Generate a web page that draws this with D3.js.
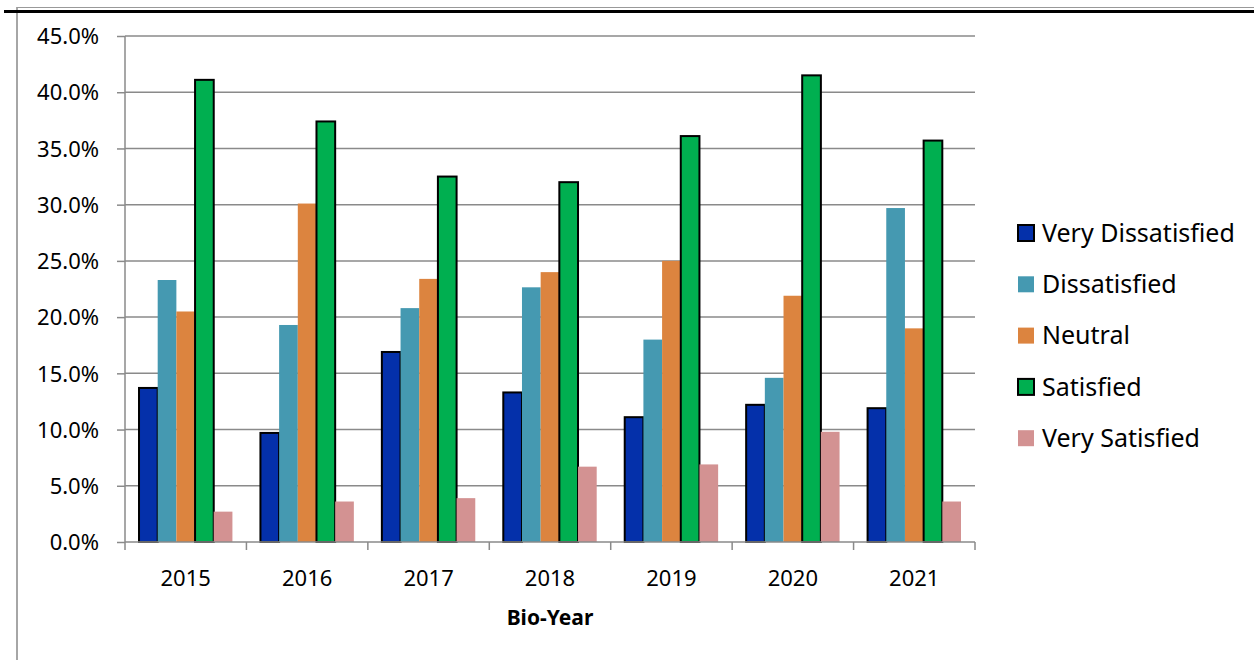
<!DOCTYPE html>
<meta charset="utf-8">
<script src="https://cdn.jsdelivr.net/npm/d3@7"></script>
<style>
  body { margin: 0; background: #fff; }
  text { font-family: "Noto Sans", "Open Sans", sans-serif; fill: #000; }
</style>
<body>
<script>
  // chart data
  var years = ["2015", "2016", "2017", "2018", "2019", "2020", "2021"];
  var series = ["Very Dissatisfied", "Dissatisfied", "Neutral", "Satisfied", "Very Satisfied"];
  var colors = ["#0430aa", "#4599b1", "#dc843f", "#00af50", "#d39292"];
  var outlined = [true, false, false, true, false];
  var veryDissatisfied = [13.7, 9.7, 16.9, 13.3, 11.1, 12.2, 11.9];
  var dissatisfied = [23.3, 19.3, 20.8, 22.65, 18.0, 14.6, 29.7];
  var neutral = [20.5, 30.1, 23.4, 24.0, 25.0, 21.9, 19.0];
  var satisfied = [41.1, 37.4, 32.5, 32.0, 36.1, 41.5, 35.7];
  var verySatisfied = [2.7, 3.6, 3.9, 6.7, 6.9, 9.8, 3.6];
  var yTicks = [0, 5, 10, 15, 20, 25, 30, 35, 40, 45];

  var values = [veryDissatisfied, dissatisfied, neutral, satisfied, verySatisfied];

  var width = 1254, height = 660;
  var plotLeft = 125, plotRight = 975, plotTop = 36, plotBottom = 542;

  var svg = d3.select("body").append("svg")
    .attr("width", width)
    .attr("height", height);

  // frame lines
  svg.append("line").attr("x1", 17).attr("x2", 17).attr("y1", 7).attr("y2", height)
    .attr("stroke", "#888").attr("stroke-width", 1.5);
  svg.append("line").attr("x1", 17).attr("x2", width).attr("y1", 7.5).attr("y2", 7.5)
    .attr("stroke", "#999").attr("stroke-width", 1);
  svg.append("line").attr("x1", 4).attr("x2", width).attr("y1", 11.5).attr("y2", 11.5)
    .attr("stroke", "#000").attr("stroke-width", 3);

  var y = d3.scaleLinear().domain([0, 45]).range([plotBottom, plotTop]);
  var x0 = d3.scaleBand().domain(years).range([plotLeft, plotRight]).paddingInner(0).paddingOuter(0);
  var barW = x0.bandwidth() / 6.5;

  // gridlines
  svg.append("g").selectAll("line")
    .data(yTicks.slice(1))
    .enter().append("line")
    .attr("x1", plotLeft).attr("x2", plotRight)
    .attr("y1", function (d) { return y(d); })
    .attr("y2", function (d) { return y(d); })
    .attr("stroke", "#8a8a8a").attr("stroke-width", 1.5);

  // y axis
  var yAxis = svg.append("g")
    .attr("transform", "translate(" + plotLeft + ",0)")
    .call(d3.axisLeft(y).tickValues(yTicks).tickSize(8).tickPadding(18)
      .tickFormat(function (d) { return d.toFixed(1) + "%"; }));
  yAxis.select(".domain").attr("stroke", "#8a8a8a").attr("stroke-width", 1.5)
    .attr("d", "M0," + plotTop + "V" + plotBottom);
  yAxis.selectAll(".tick line").attr("stroke", "#8a8a8a").attr("stroke-width", 1.5);
  yAxis.selectAll(".tick text").style("font-size", "22px").attr("dy", "0.35em")
    .style("font-family", "'Noto Sans', sans-serif");

  // bars
  series.forEach(function (s, i) {
    svg.append("g").selectAll("rect")
      .data(values[i])
      .enter().append("rect")
      .attr("x", function (d, j) { return x0(years[j]) + barW * 0.75 + i * barW; })
      .attr("y", function (d) { return y(d); })
      .attr("width", barW)
      .attr("height", function (d) { return plotBottom - y(d); })
      .attr("fill", colors[i])
      .attr("stroke", outlined[i] ? "#000" : "none")
      .attr("stroke-width", 2);
  });

  // x axis
  var xAxis = svg.append("g").attr("transform", "translate(0," + plotBottom + ")");
  xAxis.append("line").attr("x1", plotLeft).attr("x2", plotRight)
    .attr("stroke", "#8a8a8a").attr("stroke-width", 1.5);
  xAxis.selectAll(".xt")
    .data(years.concat(["end"]))
    .enter().append("line")
    .attr("x1", function (d, j) { return plotLeft + j * x0.bandwidth(); })
    .attr("x2", function (d, j) { return plotLeft + j * x0.bandwidth(); })
    .attr("y1", 0).attr("y2", 8)
    .attr("stroke", "#8a8a8a").attr("stroke-width", 1.5);
  xAxis.selectAll("text")
    .data(years)
    .enter().append("text")
    .attr("x", function (d) { return x0(d) + x0.bandwidth() / 2; })
    .attr("y", 44)
    .attr("text-anchor", "middle")
    .style("font-size", "22px")
    .text(function (d) { return d; });

  svg.append("text")
    .attr("x", (plotLeft + plotRight) / 2)
    .attr("y", 625)
    .attr("text-anchor", "middle")
    .style("font-size", "21px")
    .style("font-weight", 700)
    .text("Bio-Year");

  // legend
  var legend = svg.append("g").selectAll("g")
    .data(series)
    .enter().append("g")
    .attr("transform", function (d, i) { return "translate(1018," + (233 + i * 51.3) + ")"; });
  legend.append("rect")
    .attr("x", 0).attr("y", -8).attr("width", 16).attr("height", 16)
    .attr("fill", function (d, i) { return colors[i]; })
    .attr("stroke", function (d, i) { return outlined[i] ? "#000" : "none"; })
    .attr("stroke-width", 2);
  legend.append("text")
    .attr("x", 24).attr("y", 0).attr("dy", "0.35em")
    .style("font-size", "25px")
    .text(function (d) { return d; });
</script>
</body>
